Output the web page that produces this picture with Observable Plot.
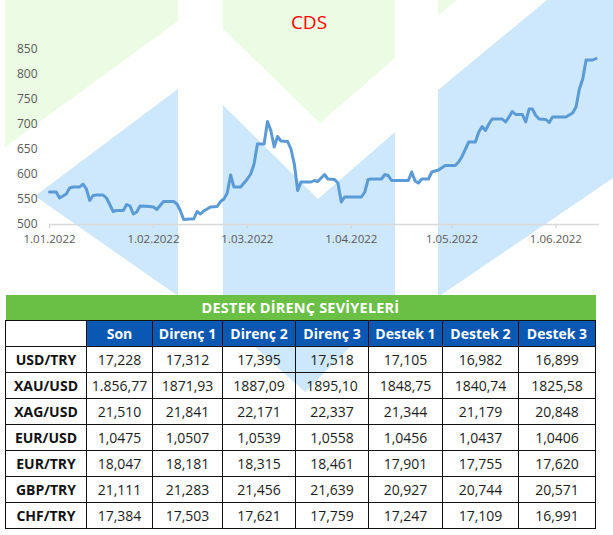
<!DOCTYPE html>
<html>
<head>
<meta charset="utf-8">
<script src="https://cdn.jsdelivr.net/npm/d3@7"></script>
<script src="https://cdn.jsdelivr.net/npm/@observablehq/plot@0.6"></script>
<style>
  html, body { margin: 0; padding: 0; background: #fff; }
  #wrap { position: relative; width: 613px; height: 535px; overflow: hidden; font-family: "Open Sans", sans-serif; }
  #bg { position: absolute; left: 0; top: 0; }
  #chart { position: absolute; left: 0; top: 0; }
  #title { position: absolute; left: 0; top: 10px; width: 618px; text-align: center; font-size: 19px; line-height: 24px; color: #ff0000; }
  #chart [aria-label^="x-axis"] line, #chart [aria-label^="x-axis"] path { stroke: #d4d4d4; stroke-width: 1.3; }
  table { position: absolute; left: 5px; top: 295px; border-collapse: collapse; table-layout: fixed; font-family: "Open Sans", sans-serif; font-size: 14px; }
  td, th { padding: 0; text-align: center; white-space: nowrap; }
  tr.top th { background: #6abf45; color: #fff; font-weight: 700; height: 25px; border-bottom: 1.5px solid #111; font-size: 14.5px; letter-spacing: 0.2px; }
  tr.head th { height: 25px; border: 1.5px solid #111; color: #fff; background: #0a58b2; font-weight: 700; }
  tr.head th.empty { background: #fff; }
  tr.row td { height: 25px; border: 1.5px solid #111; color: #1c1c1c; background: transparent; }
  tr.row td.lab { font-weight: 700; color: #111; }
</style>
</head>
<body>
<div id="wrap">
  <svg id="bg" width="613" height="535" xmlns="http://www.w3.org/2000/svg">
    <g fill="#ecfbe3">
      <polygon points="5,0 178,0 178,21 5,147"/>
      <polygon points="223,0 395,0 395,58 320,123 223,29"/>
      <polygon points="438,0 457,0 438,16"/>
    </g>
    <g fill="#cde7fc">
      <polygon points="35,196 178,89 178,296"/>
      <polygon points="223,105 318,199 395,132 395,302 305,392 223,318"/>
      <polygon points="438,90 547,0 613,0 613,178 438,297"/>
    </g>
  </svg>
  <div id="chart"></div>
  <div id="title">CDS</div>
  <div id="tbl"></div>
</div>
<script>
// ---- CDS series ----
const cdsDates = [
  "2022-01-01","2022-01-03","2022-01-04","2022-01-06","2022-01-07","2022-01-08","2022-01-10","2022-01-11",
  "2022-01-12","2022-01-13","2022-01-14","2022-01-15","2022-01-17","2022-01-18","2022-01-20","2022-01-21",
  "2022-01-23","2022-01-24","2022-01-25","2022-01-26","2022-01-27","2022-01-28","2022-01-31","2022-02-01",
  "2022-02-02","2022-02-04","2022-02-07","2022-02-08","2022-02-09","2022-02-10","2022-02-12","2022-02-13",
  "2022-02-14","2022-02-15","2022-02-16","2022-02-18","2022-02-20","2022-02-21","2022-02-22","2022-02-23",
  "2022-02-24","2022-02-25","2022-02-27","2022-03-01","2022-03-02","2022-03-03","2022-03-04","2022-03-06",
  "2022-03-07","2022-03-08","2022-03-09","2022-03-10","2022-03-11","2022-03-13","2022-03-14","2022-03-15",
  "2022-03-16","2022-03-17","2022-03-20","2022-03-21","2022-03-22","2022-03-24","2022-03-25","2022-03-27",
  "2022-03-28","2022-03-29","2022-03-30","2022-04-04","2022-04-05","2022-04-06","2022-04-07","2022-04-10",
  "2022-04-11","2022-04-12","2022-04-13","2022-04-18","2022-04-19","2022-04-20","2022-04-21","2022-04-22",
  "2022-04-24","2022-04-25","2022-04-26","2022-04-27","2022-04-29","2022-05-02","2022-05-03","2022-05-04",
  "2022-05-06","2022-05-08","2022-05-09","2022-05-10","2022-05-11","2022-05-12","2022-05-13","2022-05-16",
  "2022-05-17","2022-05-18","2022-05-19","2022-05-20","2022-05-22","2022-05-23","2022-05-24","2022-05-25",
  "2022-05-26","2022-05-27","2022-05-29","2022-05-30","2022-05-31","2022-06-04","2022-06-06","2022-06-07",
  "2022-06-08","2022-06-09","2022-06-10","2022-06-12","2022-06-13"
];
const cdsValues = [
  565,565,553,561,573,575,575,581,
  571,548,558,559,559,553,526,528,
  528,540,537,521,525,537,536,535,
  530,546,546,541,528,510,511,511,
  526,521,527,535,536,546,551,563,
  599,575,575,591,601,621,661,661,
  706,688,655,676,667,666,651,621,
  568,585,585,588,586,600,591,590,
  583,545,555,555,565,590,591,591,
  600,598,588,588,605,587,583,591,
  591,605,607,609,618,618,625,636,
  665,665,685,696,688,701,711,711,
  705,715,726,720,720,705,731,731,
  718,711,710,704,715,715,723,735,
  771,791,829,829,832
];
const xDomain = ["2022-01-01", "2022-06-14"];
const xTicks = ["2022-01-01","2022-02-01","2022-03-01","2022-04-01","2022-05-01","2022-06-01"];
const yTicks = [500, 550, 600, 650, 700, 750, 800, 850];
const yBaseline = [500];

// ---- Support / resistance table ----
const tableTitle = "DESTEK DİRENÇ SEVİYELERİ";
const pairs = ["USD/TRY","XAU/USD","XAG/USD","EUR/USD","EUR/TRY","GBP/TRY","CHF/TRY"];
const columns = ["Son","Direnç 1","Direnç 2","Direnç 3","Destek 1","Destek 2","Destek 3"];
const son     = ["17,228","1.856,77","21,510","1,0475","18,047","21,111","17,384"];
const direnc1 = ["17,312","1871,93","21,841","1,0507","18,181","21,283","17,503"];
const direnc2 = ["17,395","1887,09","22,171","1,0539","18,315","21,456","17,621"];
const direnc3 = ["17,518","1895,10","22,337","1,0558","18,461","21,639","17,759"];
const destek1 = ["17,105","1848,75","21,344","1,0456","17,901","20,927","17,247"];
const destek2 = ["16,982","1840,74","21,179","1,0437","17,755","20,744","17,109"];
const destek3 = ["16,899","1825,58","20,848","1,0406","17,620","20,571","16,991"];

const data = cdsDates.map((d, i) => ({date: new Date(d), value: cdsValues[i]}));
const fmt = d => `${d.getUTCDate()}.${String(d.getUTCMonth() + 1).padStart(2, "0")}.${d.getUTCFullYear()}`;

const chart = Plot.plot({
  width: 613,
  height: 260,
  marginLeft: 49,
  marginRight: 14,
  marginTop: 49,
  marginBottom: 36,
  style: {background: "transparent", fontFamily: "Open Sans, sans-serif", fontSize: "12px", color: "#595959", overflow: "visible"},
  x: {type: "utc", domain: xDomain.map(d => new Date(d)), ticks: xTicks.map(d => new Date(d)), tickFormat: fmt, tickSize: 4, tickPadding: 6, label: null},
  y: {domain: [500, 850], ticks: yTicks, tickSize: 0, tickPadding: 12, label: null},
  marks: [
    Plot.ruleY(yBaseline, {stroke: "#d9d9d9", strokeWidth: 1.5}),
    Plot.line(data, {x: "date", y: "value", stroke: "#5b9bd5", strokeWidth: 3, strokeLinejoin: "round", strokeLinecap: "round"})
  ]
});
document.getElementById("chart").appendChild(chart);
d3.select(chart).selectAll('[aria-label^="x-axis"] text').style("font-size", "11.5px");

// build table
const colWidths = [81, 66, 70, 73, 73, 74, 76, 77];
const cols = [son, direnc1, direnc2, direnc3, destek1, destek2, destek3];
const table = d3.select("#tbl").append("table");
const cg = table.append("colgroup");
colWidths.forEach(w => cg.append("col").style("width", w + "px"));
table.append("tr").attr("class", "top").append("th").attr("colspan", 8).text(tableTitle);
const hr = table.append("tr").attr("class", "head");
hr.append("th").attr("class", "empty");
columns.forEach(c => hr.append("th").text(c));
pairs.forEach((p, i) => {
  const r = table.append("tr").attr("class", "row");
  r.append("td").attr("class", "lab").text(p);
  cols.forEach(c => r.append("td").text(c[i]));
});
</script>
</body>
</html>
